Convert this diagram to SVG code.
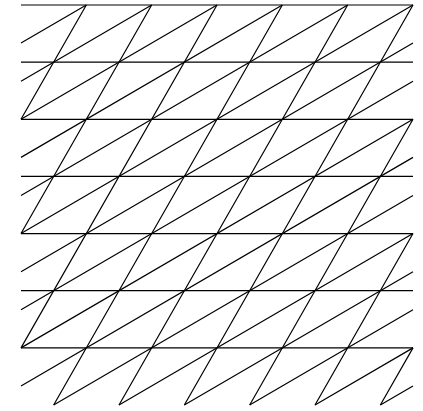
<svg xmlns="http://www.w3.org/2000/svg" width="423" height="411" viewBox="0 0 423 411">
<style>
.l{fill:none;stroke:#000;stroke-width:1.2;stroke-linecap:butt}
</style>
<rect width="423" height="411" fill="#fff"/>
<g id="horizontal" class="l">
<path d="M21,5H413M21,62.14H413M21,119.29H413M21,176.43H413M21,233.57H413M21,290.71H413M21,347.86H413"/>
</g>
<g id="steep" class="l">
<path d="M21,119.29L86.33,5M21,233.57L151.67,5M21,347.86L217,5M53.67,405L282.33,5M119,405L347.67,5M184.33,405L413,5M249.67,405L413,119.29M315,405L413,233.57M380.33,405L413,347.86"/>
</g>
<g id="shallow" class="l">
<path d="M21,43.09L86.33,5M21,81.19L151.67,5M21,119.29L217,5M21,157.38L282.33,5M21,195.48L347.67,5M21,233.57L413,5M21,271.67L413,43.09M21,309.76L413,81.19M21,347.86L413,119.29M21,385.95L413,157.38M53.67,405L413,195.48M119,405L413,233.57M184.33,405L413,271.67M249.67,405L413,309.76M315,405L413,347.86M380.33,405L413,385.95"/>
</g>
</svg>
